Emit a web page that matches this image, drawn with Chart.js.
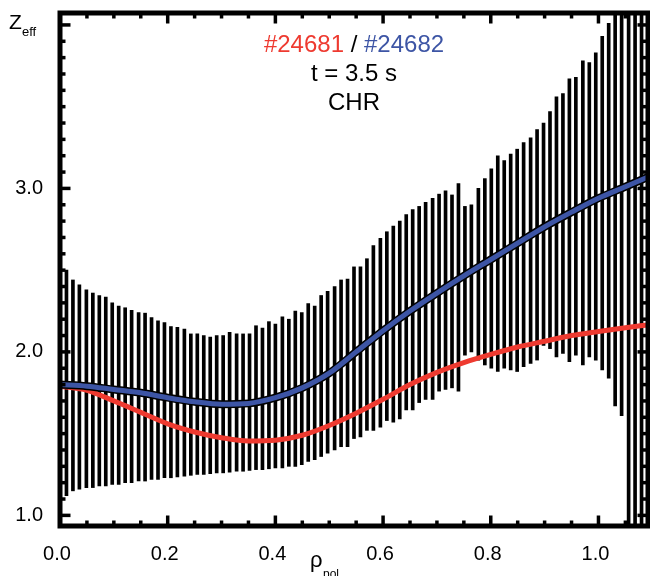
<!DOCTYPE html>
<html><head><meta charset="utf-8">
<script src="https://cdn.jsdelivr.net/npm/chart.js@4.4.1/dist/chart.umd.min.js"></script>
<style>html,body{margin:0;padding:0;background:#fff}</style>
</head><body>
<canvas id="c" width="650" height="576"></canvas>
<script>
// ---- data ----
const rho = [0,.012,.024,.036,.049,.061,.073,.085,.097,.109,
 .121,.133,.146,.158,.170,.182,.194,.206,.218,.231,
 .243,.255,.267,.279,.291,.303,.315,.328,.340,.352,
 .364,.376,.388,.400,.413,.425,.437,.449,.461,.473,
 .485,.497,.510,.522,.534,.546,.558,.570,.582,.595,
 .607,.619,.631,.643,.655,.667,.679,.692,.704,.716,
 .728,.740,.752,.764,.777,.789,.801,.813,.825,.837,
 .849,.861,.874,.886,.898,.910,.922,.934,.946,.958,
 .971,.983,.995,1.007,1.019,1.031,1.043,1.056,1.068,1.080,1.092];
const zeffUpper = [2.51,2.50,2.44,2.41,2.38,2.36,2.345,2.335,2.30,2.28,
 2.27,2.255,2.24,2.237,2.21,2.19,2.18,2.155,2.15,2.14,
 2.11,2.11,2.10,2.09,2.10,2.10,2.12,2.11,2.11,2.11,
 2.16,2.145,2.185,2.17,2.215,2.20,2.25,2.24,2.295,2.28,
 2.345,2.37,2.40,2.44,2.445,2.52,2.52,2.57,2.65,2.695,
 2.735,2.77,2.80,2.84,2.87,2.89,2.915,2.94,2.965,2.985,
 2.96,3.03,2.89,2.90,3.00,3.06,3.12,3.20,3.17,3.21,
 3.24,3.28,3.31,3.36,3.40,3.47,3.56,3.58,3.67,3.68,
 3.78,3.77,3.83,3.93,4.01,4.15,4.2,4.25,4.3,4.35,4.4];
const zeffLower = [1.10,1.12,1.15,1.16,1.17,1.17,1.18,1.18,1.19,1.19,
 1.20,1.20,1.21,1.21,1.22,1.22,1.23,1.23,1.235,1.24,
 1.245,1.25,1.25,1.255,1.26,1.26,1.265,1.27,1.27,1.275,
 1.28,1.28,1.285,1.29,1.29,1.30,1.30,1.31,1.33,1.34,
 1.36,1.38,1.40,1.42,1.42,1.47,1.48,1.52,1.52,1.54,
 1.58,1.57,1.59,1.645,1.645,1.69,1.71,1.71,1.76,1.77,
 1.78,1.76,1.98,2.00,1.95,1.92,1.90,1.88,1.90,1.89,
 1.88,1.91,1.93,1.95,2.04,2.02,1.97,1.99,1.94,1.98,
 1.92,1.97,1.95,1.89,1.84,1.67,1.61,0.8,0.8,0.8,0.8];
const profileRho = [0,0.05,0.1,0.15,0.2,0.25,0.3,0.35,0.4,0.45,0.5,0.55,0.6,0.65,0.7,0.75,0.8,0.85,0.9,0.95,1.0,1.05,1.092];
const zeff24682 = [1.80,1.79,1.77,1.75,1.72,1.695,1.68,1.685,1.72,1.78,1.87,2.0,2.13,2.25,2.36,2.465,2.565,2.665,2.765,2.855,2.94,3.01,3.07];
const zeff24681 = [1.79,1.765,1.70,1.63,1.56,1.51,1.475,1.455,1.46,1.49,1.55,1.625,1.71,1.80,1.875,1.935,1.985,2.03,2.065,2.10,2.125,2.148,2.165];
const titleShots = ['#24681', ' / ', '#24682'];
const titleLines = ['t = 3.5 s', 'CHR'];
const xTicks = [0, 0.2, 0.4, 0.6, 0.8, 1.0];
const yTicks = [1, 2, 3];

const RED = '#EE3A30', BLUE = '#3D55A5';
const FONT = "'Liberation Sans', Arial, sans-serif";

const pts = (xs, ys) => xs.map((x, i) => ({x, y: ys[i]}));
const bars = rho.map((x, i) => ({x, y: [zeffLower[i], zeffUpper[i]]}));

const decor = {
  id: 'decor',
  afterDatasetsDraw(chart) {
    const {ctx, chartArea: a, scales: {x, y}} = chart;
    ctx.save();
    ctx.strokeStyle = '#000';
    ctx.lineWidth = 5;
    ctx.strokeRect(a.left, a.top, a.right - a.left, a.bottom - a.top);
    ctx.lineWidth = 3.5;
    const seg = (x1, y1, x2, y2) => { ctx.beginPath(); ctx.moveTo(x1, y1); ctx.lineTo(x2, y2); ctx.stroke(); };
    for (let k = 0; k <= 21; k++) {
      const px = x.getPixelForValue(k * 0.05);
      const L = (k % 4 === 0) ? 10.5 : 5.5;
      seg(px, a.bottom, px, a.bottom - L);
      seg(px, a.top, px, a.top + L);
    }
    for (let k = 10; k <= 40; k++) {
      const py = y.getPixelForValue(k / 10);
      const L = (k % 10 === 0) ? 10.5 : 5.5;
      seg(a.left, py, a.left + L, py);
      seg(a.right, py, a.right - L, py);
    }
    ctx.restore();
  },
  afterDraw(chart) {
    const {ctx, chartArea: a} = chart;
    ctx.save();
    ctx.fillStyle = '#000';
    const cx = (a.left + a.right) / 2;
    ctx.font = '24px ' + FONT;
    ctx.textBaseline = 'middle';
    const colors = [RED, '#000', BLUE];
    const widths = titleShots.map(s => ctx.measureText(s).width);
    let tx = cx - widths.reduce((p, q) => p + q, 0) / 2;
    ctx.textAlign = 'left';
    titleShots.forEach((s, i) => { ctx.fillStyle = colors[i]; ctx.fillText(s, tx, 45); tx += widths[i]; });
    ctx.fillStyle = '#000';
    ctx.textAlign = 'center';
    ctx.fillText(titleLines[0], cx, 74);
    ctx.fillText(titleLines[1], cx, 103);
    ctx.textAlign = 'left';
    ctx.textBaseline = 'alphabetic';
    ctx.font = '21px ' + FONT;
    ctx.fillText('Z', 9, 29);
    ctx.font = '13px ' + FONT;
    ctx.fillText('eff', 22, 36);
    ctx.font = '22px ' + FONT;
    ctx.fillText('\u03C1', 310, 567);
    ctx.font = '12px ' + FONT;
    ctx.fillText('pol', 323, 578);
    ctx.restore();
  }
};

new Chart(document.getElementById('c'), {
  type: 'bar',
  data: {
    datasets: [
      {type: 'line', label: '#24682', data: pts(profileRho, zeff24682), borderColor: BLUE, borderWidth: 5,
       pointRadius: 0, cubicInterpolationMode: 'monotone', order: 0},
      {type: 'line', label: 'outline', data: pts(profileRho, zeff24682), borderColor: '#000', borderWidth: 8,
       pointRadius: 0, cubicInterpolationMode: 'monotone', order: 1},
      {type: 'line', label: '#24681', data: pts(profileRho, zeff24681), borderColor: RED, borderWidth: 5,
       pointRadius: 0, cubicInterpolationMode: 'monotone', order: 2},
      {type: 'bar', label: 'error', data: bars, backgroundColor: '#000', borderWidth: 0,
       barThickness: 3, grouped: false, order: 3}
    ]
  },
  options: {
    responsive: false,
    animation: false,
    devicePixelRatio: 1,
    layout: {padding: {top: 13, right: 2, left: 0, bottom: 0}},
    plugins: {legend: {display: false}, tooltip: {enabled: false}, title: {display: false}},
    scales: {
      x: {
        type: 'linear', offset: false, min: 0, max: 1.092,
        grid: {display: false, drawTicks: false}, border: {display: false},
        afterFit: s => { s.height = 50; s.paddingLeft = 0; s.paddingRight = 0; },
        afterBuildTicks: s => { s.ticks = xTicks.map(v => ({value: v})); },
        ticks: {color: '#000', font: {family: FONT, size: 20}, padding: 16, labelOffset: -3,
                maxRotation: 0, autoSkip: false, callback: v => v.toFixed(1)}
      },
      y: {
        type: 'linear', min: 0.935, max: 4.073,
        grid: {display: false, drawTicks: false}, border: {display: false},
        afterFit: s => { s.width = 60; s.paddingTop = 0; s.paddingBottom = 0; },
        afterBuildTicks: s => { s.ticks = yTicks.map(v => ({value: v})); },
        ticks: {color: '#000', font: {family: FONT, size: 20}, padding: 17, callback: v => v.toFixed(1)}
      }
    }
  },
  plugins: [decor]
});
</script>
</body></html>
